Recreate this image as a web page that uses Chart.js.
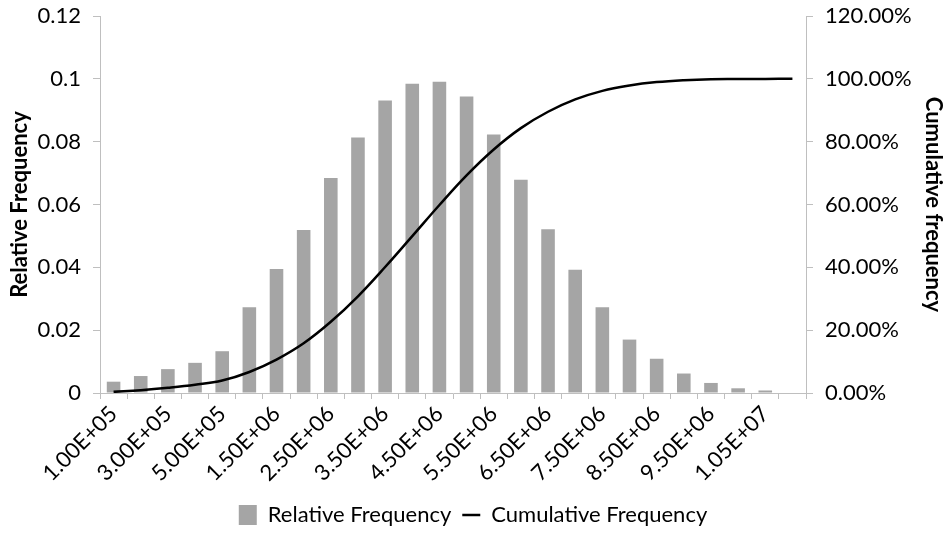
<!DOCTYPE html>
<html>
<head>
<meta charset="utf-8">
<script src="https://cdn.jsdelivr.net/npm/chart.js@4/dist/chart.umd.min.js"></script>
<style>
  html, body { margin: 0; padding: 0; background: #ffffff; }
  #wrap { width: 946px; height: 536px; position: relative; }
</style>
</head>
<body>
<div id="wrap"><canvas id="chart" width="946" height="536"></canvas></div>
<script>
// Bin labels (upper bound of each bin)
const categories = [
  '1.00E+05', '2.00E+05', '3.00E+05', '4.00E+05', '5.00E+05',
  '1.00E+06', '1.50E+06', '2.00E+06', '2.50E+06', '3.00E+06',
  '3.50E+06', '4.00E+06', '4.50E+06', '5.00E+06', '5.50E+06',
  '6.00E+06', '6.50E+06', '7.00E+06', '7.50E+06', '8.00E+06',
  '8.50E+06', '9.00E+06', '9.50E+06', '1.00E+07', '1.05E+07', '1.10E+07'
];

// Share of observations in each bin
const relativeFrequency = [
  0.0036, 0.0054, 0.0076, 0.0096, 0.0133,
  0.0273, 0.0395, 0.0519, 0.0684, 0.0813,
  0.0931, 0.0984, 0.0991, 0.0944, 0.0823,
  0.0679, 0.0521, 0.0392, 0.0273, 0.0170,
  0.0109, 0.0062, 0.0032, 0.0015, 0.0008, 0.0000
];

// Running total of the relative frequencies
const cumulativeFrequency = [
  0.0036, 0.0090, 0.0166, 0.0262, 0.0395,
  0.0668, 0.1063, 0.1582, 0.2266, 0.3079,
  0.4010, 0.4994, 0.5985, 0.6929, 0.7752,
  0.8431, 0.8952, 0.9344, 0.9617, 0.9787,
  0.9896, 0.9958, 0.9990, 0.9995, 0.9998, 1.0000
];

const leftTicks = [0, 0.02, 0.04, 0.06, 0.08, 0.1, 0.12];
const rightTicks = [0, 0.2, 0.4, 0.6, 0.8, 1.0, 1.2];

const FONT = 'Lato, "Open Sans", sans-serif';
const AXIS_GREY = '#BFBFBF';
const TEXT = '#000000';

// Fixed axis sizes so the plot area lands in a set place
function fixWidth(w) {
  return (s) => { s.width = w; s.paddingTop = 0; s.paddingBottom = 0; };
}

new Chart(document.getElementById('chart'), {
  data: {
    labels: categories,
    datasets: [
      {
        type: 'line',
        label: 'Cumulative Frequency',
        data: cumulativeFrequency,
        yAxisID: 'yRight',
        borderColor: '#000000',
        backgroundColor: '#000000',
        borderWidth: 2.5,
        pointRadius: 0,
        tension: 0.4,
        fill: false,
        order: 0,
        pointStyle: 'line'
      },
      {
        type: 'bar',
        label: 'Relative Frequency',
        data: relativeFrequency,
        yAxisID: 'yLeft',
        backgroundColor: '#A5A5A5',
        borderWidth: 0,
        barPercentage: 0.5,
        categoryPercentage: 1.0,
        order: 1,
        pointStyle: 'rect'
      }
    ]
  },
  options: {
    responsive: false,
    animation: false,
    devicePixelRatio: 1,
    layout: { padding: { top: 16, left: 0, right: 0, bottom: 0 } },
    plugins: {
      tooltip: { enabled: false },
      legend: {
        position: 'bottom',
        reverse: true,
        labels: {
          usePointStyle: true,
          pointStyleWidth: 18,
          boxHeight: 20,
          padding: 11,
          color: TEXT,
          font: { family: FONT, size: 22 }
        }
      }
    },
    scales: {
      x: {
        type: 'category',
        offset: true,
        afterFit: (s) => { s.height = 100; s.paddingLeft = 0; s.paddingRight = 0; },
        border: { display: true, color: AXIS_GREY, width: 1 },
        grid: {
          offset: true,
          drawOnChartArea: false,
          drawTicks: true,
          tickLength: 6,
          color: AXIS_GREY
        },
        ticks: {
          autoSkip: false,
          minRotation: 45,
          maxRotation: 45,
          padding: 2,
          color: TEXT,
          font: { family: FONT, size: 22 },
          callback: function (value, index) {
            return index % 2 === 0 ? this.getLabelForValue(value) : '';
          }
        }
      },
      yLeft: {
        type: 'linear',
        position: 'left',
        min: 0,
        max: 0.12,
        afterFit: fixWidth(100),
        afterBuildTicks: (s) => { s.ticks = leftTicks.map(v => ({ value: v })); },
        border: { display: true, color: AXIS_GREY, width: 1 },
        grid: { drawOnChartArea: false, drawTicks: true, tickLength: 7, color: AXIS_GREY },
        title: {
          display: true,
          text: 'Relative Frequency',
          color: TEXT,
          font: { family: FONT, size: 22, weight: 'bold' },
          padding: { top: 7, bottom: 0 }
        },
        ticks: {
          padding: 12,
          color: TEXT,
          font: { family: FONT, size: 22 },
          callback: (v) => String(parseFloat(Number(v).toFixed(2)))
        }
      },
      yRight: {
        type: 'linear',
        position: 'right',
        min: 0,
        max: 1.2,
        afterFit: fixWidth(140),
        afterBuildTicks: (s) => { s.ticks = rightTicks.map(v => ({ value: v })); },
        border: { display: true, color: AXIS_GREY, width: 1 },
        grid: { drawOnChartArea: false, drawTicks: true, tickLength: 7, color: AXIS_GREY },
        title: {
          display: true,
          text: 'Cumulative frequency',
          color: TEXT,
          font: { family: FONT, size: 22, weight: 'bold' },
          padding: { top: 0, bottom: 0 }
        },
        ticks: {
          padding: 12,
          color: TEXT,
          font: { family: FONT, size: 22 },
          callback: (v) => (Number(v) * 100).toFixed(2) + '%'
        }
      }
    }
  }
});
</script>
</body>
</html>
